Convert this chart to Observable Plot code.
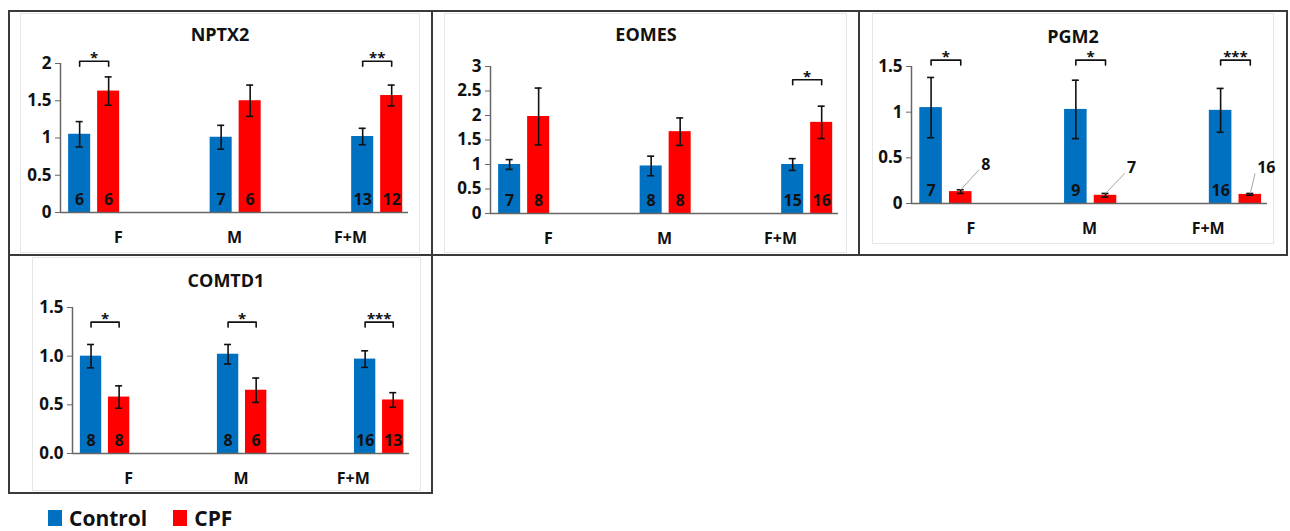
<!DOCTYPE html>
<html><head><meta charset="utf-8">
<script src="https://cdn.jsdelivr.net/npm/d3@7"></script>
<script src="https://cdn.jsdelivr.net/npm/@observablehq/plot@0.6"></script>
<style>
body{margin:0;background:#fff;font-family:"Open Sans",Lato,sans-serif;}
#root{position:relative;width:1290px;height:531px;overflow:hidden;background:#fff;}
.box{position:absolute;border:2px solid #3a3a3a;box-sizing:border-box;pointer-events:none;}
.inner{position:absolute;border:1px solid #e6e6e6;box-sizing:border-box;pointer-events:none;}
.title{position:absolute;font-weight:700;font-size:18px;line-height:18px;transform:translate(-50%,-50%);white-space:nowrap;color:#111;}
.panel{position:absolute;}
.legend{position:absolute;left:48px;top:507px;height:22px;line-height:22px;display:flex;align-items:center;font-weight:700;font-size:21px;color:#111;}
.legend .sw{width:14px;height:16px;display:inline-block;margin-right:7px;}
</style></head><body><div id="root"></div>
<script>
// ---- data ----
const groups = ["F", "M", "F+M"];
const series = ["Control", "CPF"];
const seriesColors = ["#0070C0", "#FF0000"];

const nptx2Control = [1.05, 1.01, 1.02];
const nptx2ControlErr = [0.17, 0.16, 0.11];
const nptx2Cpf = [1.63, 1.50, 1.57];
const nptx2CpfErr = [0.19, 0.21, 0.14];
const nptx2NControl = [6, 7, 13];
const nptx2NCpf = [6, 6, 12];
const nptx2Sig = ["*", "", "**"];

const eomesControl = [1.00, 0.97, 1.00];
const eomesControlErr = [0.10, 0.20, 0.12];
const eomesCpf = [1.98, 1.67, 1.86];
const eomesCpfErr = [0.58, 0.28, 0.33];
const eomesNControl = [7, 8, 15];
const eomesNCpf = [8, 8, 16];
const eomesSig = ["", "", "*"];

const pgm2Control = [1.05, 1.03, 1.02];
const pgm2ControlErr = [0.33, 0.32, 0.24];
const pgm2Cpf = [0.13, 0.09, 0.10];
const pgm2CpfErr = [0.02, 0.02, 0.01];
const pgm2NControl = [7, 9, 16];
const pgm2NCpf = [8, 7, 16];
const pgm2Sig = ["*", "*", "***"];

const comtd1Control = [1.00, 1.02, 0.97];
const comtd1ControlErr = [0.12, 0.10, 0.085];
const comtd1Cpf = [0.58, 0.65, 0.55];
const comtd1CpfErr = [0.115, 0.125, 0.075];
const comtd1NControl = [8, 8, 16];
const comtd1NCpf = [8, 6, 13];
const comtd1Sig = ["*", "*", "***"];

const ticksNptx2 = [0, 0.5, 1, 1.5, 2];
const ticksEomes = [0, 0.5, 1, 1.5, 2, 2.5, 3];
const ticksPgm2 = [0, 0.5, 1, 1.5];
const ticksComtd1 = [0, 0.5, 1, 1.5];

// ---- layout (not data) ----
const FONT = "'Open Sans', Lato, sans-serif";
const groupStart = 0.29, groupStep = 1.22, barOffset = 0.125, barWidth = 0.19;
const pgmLabelOffsets = [[25, -27], [26, -27], [16, -26]]; // px offsets of outside labels

const panels = [
  {title: "NPTX2", control: nptx2Control, controlErr: nptx2ControlErr, cpf: nptx2Cpf, cpfErr: nptx2CpfErr,
   nControl: nptx2NControl, nCpf: nptx2NCpf, sig: nptx2Sig, ymax: 2, ticks: ticksNptx2, fmt: d => String(d),
   bracketY: 2.03, left: 9, top: 12, width: 420, height: 241, ml: 51, mr: 21, mt: 51, mb: 41, tx: 220, ty: 34},
  {title: "EOMES", control: eomesControl, controlErr: eomesControlErr, cpf: eomesCpf, cpfErr: eomesCpfErr,
   nControl: eomesNControl, nCpf: eomesNCpf, sig: eomesSig, ymax: 3, ticks: ticksEomes, fmt: d => String(d),
   bracketY: 2.73, left: 433, top: 12, width: 425, height: 241, ml: 57, mr: 20, mt: 54, mb: 40, tx: 646, ty: 34},
  {title: "PGM2", control: pgm2Control, controlErr: pgm2ControlErr, cpf: pgm2Cpf, cpfErr: pgm2CpfErr,
   nControl: pgm2NControl, nCpf: pgm2NCpf, sig: pgm2Sig, ymax: 1.5, ticks: ticksPgm2, fmt: d => String(d),
   bracketY: 1.57, left: 860, top: 12, width: 426, height: 241, ml: 51, mr: 19, mt: 54, mb: 50, tx: 1073, ty: 36,
   outside: true},
  {title: "COMTD1", control: comtd1Control, controlErr: comtd1ControlErr, cpf: comtd1Cpf, cpfErr: comtd1CpfErr,
   nControl: comtd1NControl, nCpf: comtd1NCpf, sig: comtd1Sig, ymax: 1.5, ticks: ticksComtd1, fmt: d => d.toFixed(1),
   bracketY: 1.35, left: 9, top: 256, width: 422, height: 236, ml: 63, mr: 22, mt: 51, mb: 39, tx: 226, ty: 280}
];

const root = document.getElementById("root");

function makePanel(p) {
  const pxX = (p.width - p.ml - p.mr) / 3;
  const pxY = (p.height - p.mt - p.mb) / p.ymax;
  const rows = [];
  groups.forEach((g, i) => {
    const c = groupStart + i * groupStep;
    rows.push({g, i, series: series[0], x: c - barOffset, v: p.control[i], e: p.controlErr[i], n: p.nControl[i]});
    rows.push({g, i, series: series[1], x: c + barOffset, v: p.cpf[i], e: p.cpfErr[i], n: p.nCpf[i]});
  });
  const capU = 3.5 / pxX;
  const tickU = 5 / pxY;
  const brackets = groups.map((g, i) => ({g, i, s: p.sig[i], x1: groupStart + i * groupStep - barOffset, x2: groupStart + i * groupStep + barOffset}))
    .filter(d => d.s);
  const bracketPts = brackets.flatMap(b => [
    {g: b.g, x: b.x1, y: p.bracketY - tickU},
    {g: b.g, x: b.x1, y: p.bracketY},
    {g: b.g, x: b.x2, y: p.bracketY},
    {g: b.g, x: b.x2, y: p.bracketY - tickU}
  ]);
  const insideRows = p.outside ? rows.filter(d => d.series === series[0]) : rows;
  const outsideRows = p.outside ? rows.filter(d => d.series === series[1]) : [];
  const outLabel = d => {
    const [ox, oy] = pgmLabelOffsets[d.i];
    return {x: d.x + ox / pxX, y: d.v - oy / pxY};
  };
  const outLeader = d => {
    const [ox, oy] = pgmLabelOffsets[d.i];
    const hw = String(d.n).length * 4.6 + 2;
    return {x: d.x + (ox - hw) / pxX, y: d.v - (oy + 5) / pxY};
  };

  const yAxis = Plot.axisY
    ? Plot.axisY(p.ticks, {tickFormat: p.fmt, tickSize: 5, tickPadding: 4, label: null, fontSize: 17, fontWeight: "bold", fill: "#111", stroke: "#666"})
    : null;

  const plot = Plot.plot({
    width: p.width, height: p.height,
    marginLeft: p.ml, marginRight: p.mr, marginTop: p.mt, marginBottom: p.mb,
    style: {fontFamily: FONT, fontSize: "17px", fontWeight: "bold", background: "transparent", color: "#111", overflow: "visible"},
    x: {domain: [0, 3], axis: null},
    y: {domain: [0, p.ymax], ticks: p.ticks, tickFormat: p.fmt, tickSize: 5, tickPadding: 4, label: null},
    color: {domain: series, range: seriesColors},
    marks: [
      yAxis,
      Plot.rect(rows, {x1: d => d.x - barWidth / 2, x2: d => d.x + barWidth / 2, y1: 0, y2: "v", fill: "series"}),
      Plot.ruleY([0], {stroke: "#666", strokeWidth: 1.5}),
      Plot.ruleX([0], {stroke: "#666", strokeWidth: 1.5}),
      Plot.ruleX(rows, {x: "x", y1: d => d.v - d.e, y2: d => d.v + d.e, stroke: "#111", strokeWidth: 1.6}),
      Plot.ruleY(rows, {y: d => d.v + d.e, x1: d => d.x - capU, x2: d => d.x + capU, stroke: "#111", strokeWidth: 1.6}),
      Plot.ruleY(rows, {y: d => d.v - d.e, x1: d => d.x - capU, x2: d => d.x + capU, stroke: "#111", strokeWidth: 1.6}),
      Plot.text(insideRows, {x: "x", y: () => 0, text: d => String(d.n), dy: -13, fontSize: 16, fontWeight: "bold", fill: "#111"}),
      Plot.link(outsideRows, {x1: "x", y1: d => d.v + d.e, x2: d => outLeader(d).x, y2: d => outLeader(d).y, stroke: "#a6a6a6", strokeWidth: 1}),
      Plot.text(outsideRows, {x: d => outLabel(d).x, y: d => outLabel(d).y, text: d => String(d.n), fontSize: 16, fontWeight: "bold", fill: "#111"}),
      Plot.line(bracketPts, {x: "x", y: "y", z: "g", stroke: "#111", strokeWidth: 1.6}),
      Plot.text(brackets, {x: d => (d.x1 + d.x2) / 2, y: () => p.bracketY, text: "s", dy: -3, fontSize: 15, fontWeight: "bold", fill: "#111"}),
      Plot.text(groups, {x: (d, i) => i + 0.5, y: () => 0, text: d => d, dy: 25, fontSize: 16, fontWeight: "bold", fill: "#111"})
    ].filter(Boolean)
  });
  const holder = document.createElement("div");
  holder.className = "panel";
  holder.style.left = p.left + "px";
  holder.style.top = p.top + "px";
  holder.appendChild(plot);
  root.appendChild(holder);

  const t = document.createElement("div");
  t.className = "title";
  t.textContent = p.title;
  t.style.left = p.tx + "px";
  t.style.top = p.ty + "px";
  root.appendChild(t);
}

// inner light frames
[[20, 13, 420, 253], [444, 13, 847, 253], [872, 13, 1274, 244], [32, 257, 421, 491]].forEach(([x0, y0, x1, y1]) => {
  const d = document.createElement("div");
  d.className = "inner";
  Object.assign(d.style, {left: x0 + "px", top: y0 + "px", width: (x1 - x0) + "px", height: (y1 - y0) + "px"});
  root.appendChild(d);
});

panels.forEach(makePanel);

// outer black frames
[[8, 10, 433, 256], [431, 10, 860, 256], [858, 10, 1288, 256], [8, 254, 433, 494]].forEach(([x0, y0, x1, y1]) => {
  const d = document.createElement("div");
  d.className = "box";
  Object.assign(d.style, {left: x0 + "px", top: y0 + "px", width: (x1 - x0) + "px", height: (y1 - y0) + "px"});
  root.appendChild(d);
});

// legend
const legend = document.createElement("div");
legend.className = "legend";
series.forEach((s, i) => {
  const item = document.createElement("span");
  item.style.display = "inline-flex";
  item.style.alignItems = "center";
  item.style.marginRight = i === 0 ? "26px" : "0";
  const sw = document.createElement("span");
  sw.className = "sw";
  sw.style.background = seriesColors[i];
  item.appendChild(sw);
  item.appendChild(document.createTextNode(s));
  legend.appendChild(item);
});
root.appendChild(legend);
</script>
</body></html>
